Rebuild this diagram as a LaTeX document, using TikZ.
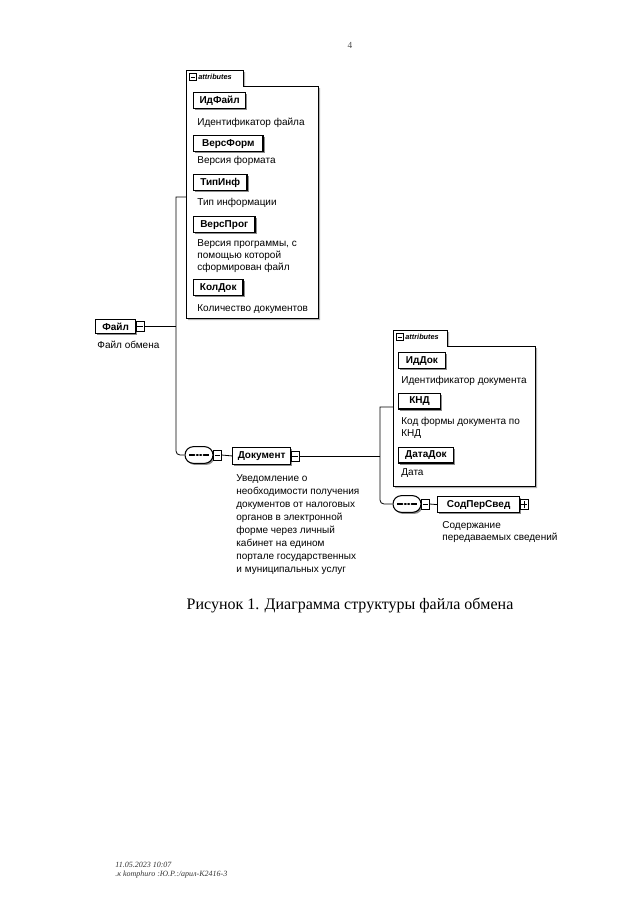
\documentclass[tikz,border=0pt]{standalone}
\usepackage{fontspec}
\setmainfont{Liberation Serif}
\setsansfont{Liberation Sans}
\usetikzlibrary{positioning,shapes.misc,shadows,calc}

\begin{document}
\begin{tikzpicture}[x=0.75pt, y=-0.75pt, line width=0.6pt,
    elem/.style={draw, line width=0.9pt, fill=white, anchor=north west, inner sep=0pt,
        minimum height=12pt, font=\sffamily\bfseries\fontsize{7.5}{9}\selectfont,
        drop shadow={shadow xshift=1.3pt, shadow yshift=-1.3pt, fill=black!45, opacity=1}},
    desc/.style={anchor=base west, inner sep=0pt, align=left,
        font=\sffamily\fontsize{7.5}{9}\selectfont},
    expminus/.style={draw, fill=white, anchor=west, inner sep=0pt, line width=0.5pt,
        minimum width=6pt, minimum height=7.5pt,
        path picture={\draw ([xshift=1pt]path picture bounding box.west) -- ([xshift=-1pt]path picture bounding box.east);}},
    expplus/.style={expminus,
        path picture={\draw ([xshift=1pt]path picture bounding box.west) -- ([xshift=-1pt]path picture bounding box.east);
                      \draw ([yshift=1pt]path picture bounding box.south) -- ([yshift=-1pt]path picture bounding box.north);}},
    seqbox/.style={draw, fill=white, shape=rounded rectangle, inner sep=0pt, line width=0.8pt,
        minimum width=21pt, minimum height=12.5pt,
        drop shadow={shadow xshift=1.2pt, shadow yshift=-1.2pt, fill=black!45, opacity=1},
        path picture={\draw ([xshift=3pt]path picture bounding box.west) -- ([xshift=-3pt]path picture bounding box.east);
                      \foreach \d in {-2.5,0,2.5} \fill ([xshift=\d pt]path picture bounding box.center) circle (0.7pt);}},
    tabtext/.style={anchor=west, inner sep=0pt, font=\sffamily\bfseries\itshape\fontsize{5.5}{6}\selectfont},
    tabmark/.style={expminus, minimum width=5.5pt, minimum height=5.5pt}
]
    % Page frame
    \useasboundingbox (0,0) rectangle (640,918);
    \node[font=\fontsize{7}{8}\selectfont, text=black!70] (pagenum) at (350,45) {4};

    % Root element
    \node[elem, minimum width=30pt, minimum height=10.5pt] (fajl) at (95,319) {Файл};
    \node[expminus] (fajlx) at ([xshift=-0.5pt]fajl.east) {};
    \node[desc] (fajld) at (97,348) {Файл обмена};

    % Attributes of Файл
    \fill[black!30] (188,320) -- (188,72) -- (245,72) -- (245,88) -- (320,88) -- (320,320) -- cycle;
    \draw[fill=white] (186,318) -- (186,70) -- (243,70) -- (243,86) -- (318,86) -- (318,318) -- cycle;
    \node[tabmark] (tabA) at (189,77) {};
    \node[tabtext] (tabAt) at (198,77) {attributes};

    \node[elem, minimum width=39pt] (idfajl) at (193,92) {ИдФайл};
    \node[desc] (idfajld) at (197,125) {Идентификатор файла};
    \node[elem, minimum width=52pt] (versform) at (193,135) {ВерсФорм};
    \node[desc] (versformd) at (197,163) {Версия формата};
    \node[elem, minimum width=40pt] (tipinf) at (193,174) {ТипИнф};
    \node[desc] (tipinfd) at (197,205) {Тип информации};
    \node[elem, minimum width=46pt] (versprog) at (193,216) {ВерсПрог};
    % base of a wrapped text is its last line
    \node[desc] (versprogd) at (197,270) {Версия программы, с\\помощью которой\\сформирован файл};
    \node[elem, minimum width=37pt] (koldok) at (193,279) {КолДок};
    \node[desc] (koldokd) at (197,311) {Количество документов};

    % Sequence to Документ
    \node[seqbox] (seqA) at (199,455) {};
    \node[expminus] (seqAx) at ([xshift=-0.5pt]seqA.east) {};
    \node[elem, minimum width=43.5pt, minimum height=12.5pt] (dok) at (232,447) {Документ};
    \node[expminus] (dokx) at ([xshift=-0.5pt]dok.east) {};
    \node[desc, font=\sffamily\fontsize{7.5}{9.75}\selectfont] (dokd) at (236,572)
        {Уведомление о\\необходимости получения\\документов от налоговых\\органов в электронной\\форме через личный\\кабинет на едином\\портале государственных\\и муниципальных услуг};

    % Attributes of Документ
    \fill[black!30] (395,488) -- (395,332) -- (449,332) -- (449,348) -- (537,348) -- (537,488) -- cycle;
    \draw[fill=white] (393,486) -- (393,330) -- (447,330) -- (447,346) -- (535,346) -- (535,486) -- cycle;
    \node[tabmark] (tabB) at (396,337) {};
    \node[tabtext] (tabBt) at (405,337) {attributes};

    \node[elem, minimum width=35pt] (iddok) at (398,352) {ИдДок};
    \node[desc] (iddokd) at (401,383) {Идентификатор документа};
    \node[elem, minimum width=31.5pt, minimum height=11.5pt] (knd) at (398,393) {КНД};
    \node[desc] (kndd) at (401,436) {Код формы документа по\\КНД};
    \node[elem, minimum width=41pt, minimum height=11.5pt] (datadok) at (398,447) {ДатаДок};
    \node[desc] (datadokd) at (401,475) {Дата};

    % Sequence to СодПерСвед
    \node[seqbox] (seqB) at (407,504) {};
    \node[expminus] (seqBx) at ([xshift=-0.5pt]seqB.east) {};
    \node[elem, minimum width=61.5pt] (sod) at (437,496) {СодПерСвед};
    \node[expplus] (sodx) at ([xshift=-0.5pt]sod.east) {};
    \node[desc] (sodd) at (442,540) {Содержание\\передаваемых сведений};

    % Connectors
    \coordinate (busA) at (176,197);
    \coordinate (attrA) at (186,197);
    \draw (fajlx.east) -- (fajlx.east -| busA);
    \draw (attrA) -- (busA) [rounded corners=3pt] -- (busA |- seqA.west) -- (seqA.west);
    \draw (seqAx.east) -- (dok.west);

    \coordinate (busB) at (380,407);
    \coordinate (attrB) at (393,407);
    \draw (dokx.east) -- (dokx.east -| busB);
    \draw (attrB) -- (busB) [rounded corners=3pt] -- (busB |- seqB.west) -- (seqB.west);
    \draw (seqBx.east) -- (sod.west);

    % Caption
    \node[font=\fontsize{12}{14}\selectfont] (caption) at (350,605) {Рисунок 1. Диаграмма структуры файла обмена};

    % Footer
    \node[anchor=west, inner sep=0pt, font=\itshape\fontsize{6}{7}\selectfont, text=black!80] (stamp) at (115,865) {11.05.2023 10:07};
    \node[anchor=west, inner sep=0pt, font=\itshape\fontsize{6}{7}\selectfont, text=black!80] (path) at (115,875) {.к komphuro :Ю.Р.:/apuл-K2416-3};
\end{tikzpicture}
\end{document}
